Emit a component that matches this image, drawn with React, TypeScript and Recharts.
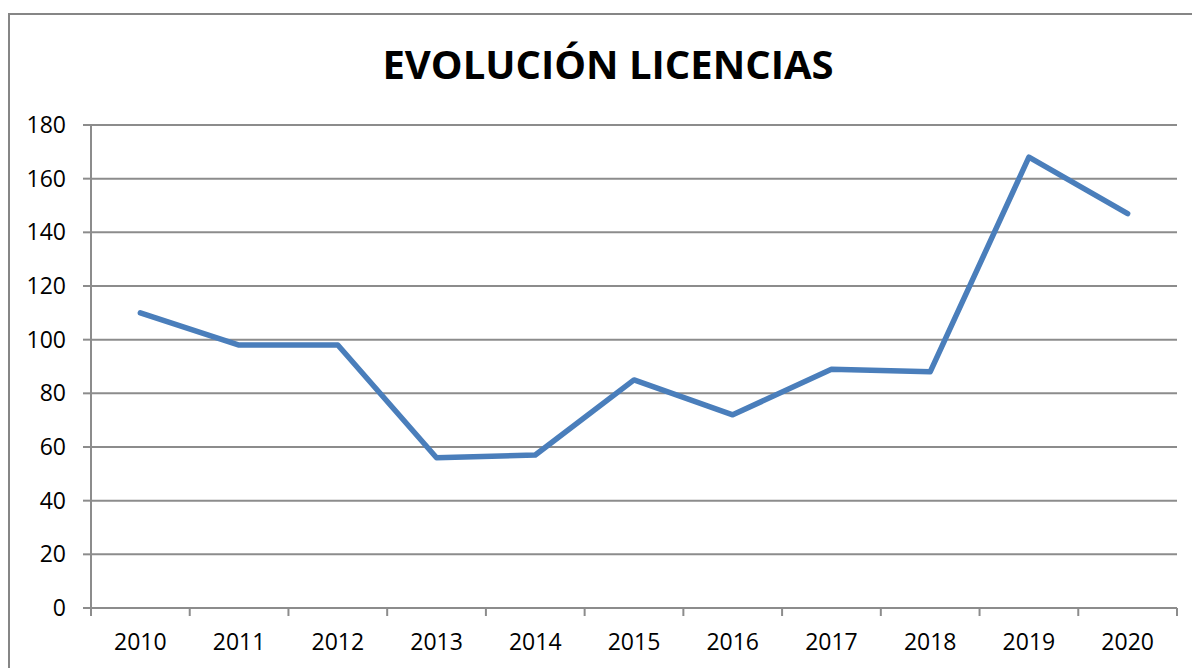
import React from 'react';
import { LineChart, Line, XAxis, YAxis, CartesianGrid } from 'recharts';

const years = ['2010', '2011', '2012', '2013', '2014', '2015', '2016', '2017', '2018', '2019', '2020'];
const licencias = [110, 98, 98, 56, 57, 85, 72, 89, 88, 168, 147];
const yTicks = [0, 20, 40, 60, 80, 100, 120, 140, 160, 180];

const data = years.map((year, i) => ({ year, value: licencias[i] }));

const FONT = '"Open Sans", "Noto Sans", sans-serif';
const GRID = '#8c8c8c';
const X_GAP = 26;

// Excel-style ticks: marks sit between categories, labels in the middle
const YearTick = (props: any) => {
  const { x, y, payload, index } = props;
  const half = payload?.offset ?? 0;
  const axisY = y - X_GAP;
  return (
    <g>
      <line x1={x - half} x2={x - half} y1={axisY} y2={axisY + 8} stroke={GRID} strokeWidth={2} />
      {index === years.length - 1 && (
        <line x1={x + half} x2={x + half} y1={axisY} y2={axisY + 8} stroke={GRID} strokeWidth={2} />
      )}
      <text x={x} y={y} dy="0.71em" textAnchor="middle" fill="#000" fontSize={23} fontFamily={FONT}>
        {payload.value}
      </text>
    </g>
  );
};

const App: React.FC = () => {
  return (
    <div style={{ position: 'absolute', left: 0, top: 0, width: 1192, height: 668, overflow: 'hidden', background: '#fff' }}>
      <div
        style={{
          position: 'absolute',
          left: 8,
          top: 13,
          width: 1300,
          height: 800,
          borderLeft: '2px solid #868686',
          borderTop: '2px solid #868686',
        }}
      />
      <div
        style={{
          position: 'absolute',
          left: 0,
          top: 36,
          width: 1216,
          textAlign: 'center',
          fontFamily: FONT,
          fontWeight: 700,
          fontSize: 40,
          lineHeight: '56px',
          color: '#000',
        }}
      >
        EVOLUCIÓN LICENCIAS
      </div>
      <div style={{ position: 'absolute', left: 0, top: 0 }}>
        <LineChart width={1192} height={668} data={data} margin={{ top: 125, right: 15, bottom: 10, left: 31 }}>
          <CartesianGrid horizontal vertical={false} stroke={GRID} strokeWidth={2} />
          <XAxis
            dataKey="year"
            scale="band"
            axisLine={{ stroke: GRID, strokeWidth: 2 }}
            tickLine={false}
            tickSize={0}
            tickMargin={X_GAP}
            height={50}
            interval={0}
            tick={<YearTick />}
          />
          <YAxis
            width={60}
            domain={[0, 180]}
            ticks={yTicks}
            interval={0}
            axisLine={{ stroke: GRID, strokeWidth: 2 }}
            tickLine={{ stroke: GRID, strokeWidth: 2 }}
            tickSize={8}
            tickMargin={17}
            tick={{ fill: '#000', fontSize: 23, fontFamily: FONT }}
          />
          <Line
            type="linear"
            dataKey="value"
            stroke="#4a7ebb"
            strokeWidth={5.5}
            strokeLinecap="round"
            strokeLinejoin="round"
            dot={false}
            activeDot={false}
            isAnimationActive={false}
          />
        </LineChart>
      </div>
    </div>
  );
};

export default App;
